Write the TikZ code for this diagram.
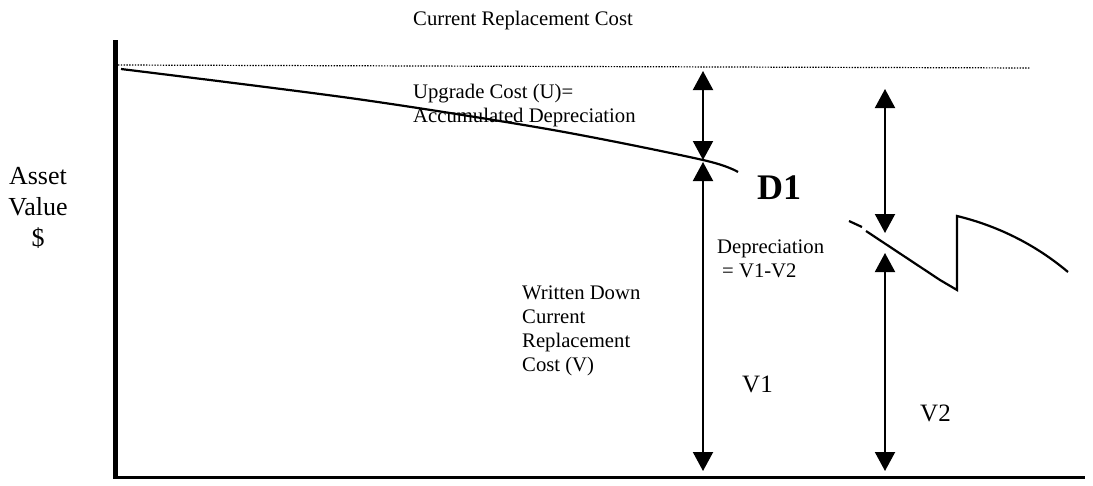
\documentclass[tikz,border=0pt]{standalone}
\usepackage{fontspec}
\setmainfont{Liberation Serif}
\usetikzlibrary{arrows.meta}
\begin{document}
\begin{tikzpicture}[x=1pt,y=-1pt,
  lbl/.style={inner sep=0pt, align=left, font=\fontsize{20.7}{24}\selectfont},
  big/.style={inner sep=0pt, font=\fontsize{25}{30}\selectfont},
  dim/.style={line width=2pt, {Triangle[width=20pt,length=19pt]}-{Triangle[width=20pt,length=19pt]}},
  curve/.style={line width=2.2pt},
  axis/.style={line width=#1},
]
\useasboundingbox (0,0) rectangle (1093,485);
% axes
\coordinate (ytop) at (115,40);
\coordinate (ybot) at (115,479);
\coordinate (xl) at (113,477);
\coordinate (xr) at (1085,477);
\draw[axis=5pt] (ytop) -- (ybot);
\draw[axis=3pt] (xl) -- (xr);
% dotted replacement cost line
\coordinate (dl) at (118,65);
\coordinate (dr) at (1030,68);
\draw[line width=1.2pt, dash pattern=on 1.4pt off 1.4pt] (dl) -- (dr);
% first depreciation curve
\coordinate (p1) at (703,160);
\draw[curve] plot[smooth] coordinates {(121,69) (357,99) (553,130) (p1) (738,172)};
% second curve
\draw[curve] (849,221) -- (862,227);
\draw[curve, line join=miter] (866,231) -- (940,280) -- (957,290) -- (957,216)
  .. controls (990,224) and (1030,240) .. (1068,272);
% dimension arrows
\coordinate (u1) at (703,71);
\coordinate (v1a) at (703,162);
\coordinate (v1b) at (703,471);
\coordinate (u2a) at (885,89);
\coordinate (u2b) at (885,233);
\coordinate (v2a) at (885,253);
\coordinate (v2b) at (885,471);
\draw[dim] (u1) -- (p1);
\draw[dim] (v1a) -- (v1b);
\draw[dim] (u2a) -- (u2b);
\draw[dim] (v2a) -- (v2b);
% labels
\node[lbl, anchor=base west] (crc) at (413,25) {Current Replacement Cost};
\node[lbl, anchor=north west] (upg) at (413,83.7) {Upgrade Cost (U)=\\Accumulated Depreciation};
\node[lbl, anchor=north west] (wdc) at (522,285.7) {Written Down\\Current\\Replacement\\Cost (V)};
\node[lbl, anchor=north west] (dep) at (717,239.7) {Depreciation\\\hspace*{5pt}= V1-V2};
\node[inner sep=0pt, anchor=base west, font=\fontsize{36}{40}\selectfont\bfseries] (d1) at (757,199) {D1};
\node[big, anchor=base west] (v1) at (742,392) {V1};
\node[big, anchor=base west] (v2) at (920,421) {V2};
\node[inner sep=0pt, align=center, anchor=north, font=\fontsize{26}{31}\selectfont] (av) at (38,167) {Asset\\Value\\\$};
\end{tikzpicture}
\end{document}
